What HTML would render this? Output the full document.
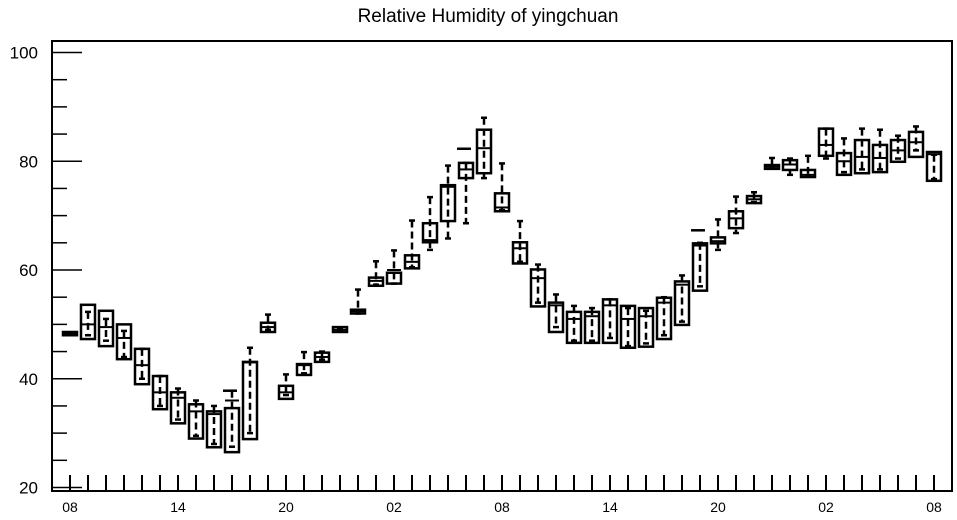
<!DOCTYPE html>
<html><head><meta charset="utf-8"><style>
html,body{margin:0;padding:0;background:#fff;}
svg{display:block;font-family:"Liberation Sans",Arial,sans-serif;}
</style></head><body>
<svg id="chart" width="957" height="520" viewBox="0 0 957 520" xmlns="http://www.w3.org/2000/svg">
<text x="488" y="22" text-anchor="middle" font-size="19">Relative Humidity of yingchuan</text>
<rect x="52" y="41" width="900" height="450" fill="none" stroke="#000" stroke-width="2"/>
<g id="axes"></g>
<g id="boxes"></g>
</svg>
<script>
const hourLabels = ["08","14","20","02","08","14","20","02","08"];
const yTicks = [20,40,60,80,100];
const q3  = [48.6,53.6,52.5,50.0,45.5,40.5,37.5,35.3,34.0,34.6,43.1,50.3,38.7,42.7,44.8,49.5,52.7,58.6,59.5,62.7,68.6,75.6,79.7,85.8,74.1,65.1,60.1,54.0,52.3,52.3,54.6,53.4,53.0,54.9,57.9,64.9,66.0,70.8,73.6,79.3,80.2,78.4,86.0,81.5,83.9,83.0,83.9,85.4,81.7];
const q1  = [48.0,47.3,46.0,43.6,39.0,34.4,31.8,29.0,27.4,26.5,28.9,48.6,36.3,40.7,43.1,48.6,52.0,57.1,57.5,60.3,65.1,69.0,76.9,77.8,70.8,61.2,53.3,48.6,46.6,46.6,46.6,45.7,45.9,47.3,49.9,56.2,64.9,67.7,72.3,78.6,78.4,77.1,81.0,77.5,77.8,78.0,79.9,80.8,76.4];
const med = [48.3,50.0,49.5,47.5,42.5,37.5,36.5,34.0,33.5,36.0,43.0,49.5,37.5,42.5,44.0,49.0,52.4,58.0,60.0,61.5,65.5,75.3,78.5,82.4,71.5,64.0,58.5,53.5,51.0,51.5,53.5,51.0,51.5,54.0,57.3,64.5,65.3,69.5,73.0,79.0,79.4,77.5,83.0,80.0,80.8,80.6,82.0,83.5,81.3];
const hi  = [48.5,52.3,51.0,48.8,45.5,40.5,38.2,36.0,35.0,37.8,45.7,51.8,40.8,44.9,45.0,49.3,56.4,61.6,63.6,69.1,73.4,79.2,79.7,88.0,79.6,69.0,61.0,55.5,53.4,53.0,54.6,53.0,52.5,55.0,59.0,65.0,69.3,73.5,74.3,80.6,80.5,81.0,86.0,84.2,86.0,85.8,84.7,86.4,81.2];
const lo  = [48.2,48.0,47.0,44.0,40.0,35.0,32.5,29.5,28.0,27.5,30.0,49.0,37.0,41.0,43.5,48.8,52.0,57.3,57.5,60.5,63.7,65.8,68.6,76.9,71.0,61.5,54.0,49.5,47.0,47.0,47.5,46.0,46.5,48.0,50.5,57.0,63.7,66.8,72.5,78.7,77.5,77.2,80.5,78.0,78.5,78.5,80.5,82.0,76.7];
const extra = {9:37.8, 22:82.3, 35:67.3};

const X0=70, DX=18;
function xs(i){return X0+DX*i;}
function ys(v){return 487.5-(v-20)*(435/80);}
const NS="http://www.w3.org/2000/svg";
function mk(tag,attrs,parent){const e=document.createElementNS(NS,tag);for(const k in attrs)e.setAttribute(k,attrs[k]);parent.appendChild(e);return e;}
const axes=document.getElementById('axes'), boxes=document.getElementById('boxes');

for(let v=20; v<=100; v+=5){
  const major = yTicks.includes(v);
  const t=mk('line',{x1:52,x2:major?82:67,y1:ys(v),y2:ys(v),stroke:'#000','stroke-width':1.5},axes);
  
  
}
yTicks.forEach(v=>{
  const t=mk('text',{x:38,y:ys(v)+6,'text-anchor':'end','font-size':17},axes);
  t.textContent=v;
  
  
});
for(let i=0;i<q3.length;i++){
  const t=mk('line',{x1:xs(i),x2:xs(i),y1:491,y2:475,stroke:'#000','stroke-width':2},axes);
  
  
}
hourLabels.forEach((l,k)=>{
  const t=mk('text',{x:xs(k*6),y:512,'text-anchor':'middle','font-size':14},axes);
  t.textContent=l;
  
  
});

for(let i=0;i<q3.length;i++){
  const g=mk('g',{},boxes);
  
  
  const x=xs(i), w=14;
  mk('line',{x1:x,x2:x,y1:ys(hi[i]),y2:ys(lo[i]),stroke:'#000','stroke-width':2.5,'stroke-dasharray':'7,4'},g);
  mk('line',{x1:x-3,x2:x+3,y1:ys(hi[i]),y2:ys(hi[i]),stroke:'#000','stroke-width':2.5},g);
  mk('line',{x1:x-3,x2:x+3,y1:ys(lo[i]),y2:ys(lo[i]),stroke:'#000','stroke-width':2.5},g);
  mk('rect',{x:x-w/2,y:ys(q3[i]),width:w,height:Math.max(2,ys(q1[i])-ys(q3[i])),fill:'none',stroke:'#000','stroke-width':2.5},g);
  mk('line',{x1:x-w/2,x2:x+w/2,y1:ys(med[i]),y2:ys(med[i]),stroke:'#000','stroke-width':2},g);
  if(extra[i]!==undefined){
    mk('line',{x1:x-9,x2:x+5,y1:ys(extra[i]),y2:ys(extra[i]),stroke:'#000','stroke-width':2.5},g);
  }
}
</script>
</body></html>
